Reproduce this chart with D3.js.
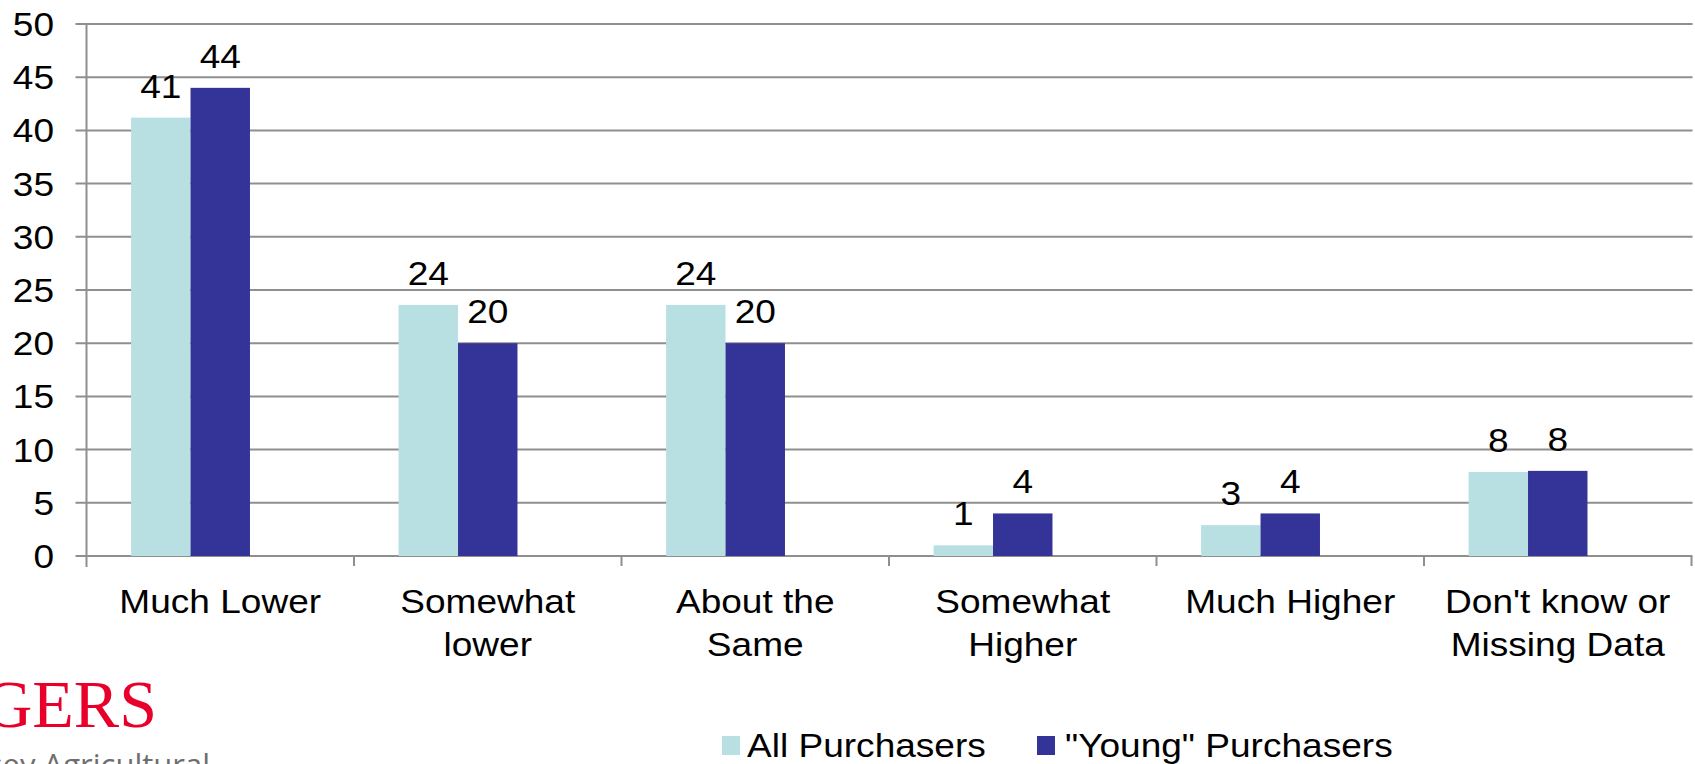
<!DOCTYPE html>
<html>
<head>
<meta charset="utf-8">
<script src="https://cdn.jsdelivr.net/npm/d3@7"></script>
<style>
  html, body { margin: 0; padding: 0; background: #fff; }
  svg { display: block; font-family: "Liberation Sans", Arial, sans-serif; }
</style>
</head>
<body>
<svg id="chart" width="1695" height="764"></svg>
<script>
// ---- data ----
const categories = ["Much Lower", "Somewhat lower", "About the Same", "Somewhat Higher", "Much Higher", "Don't know or Missing Data"];
const categoryLines = [["Much Lower"], ["Somewhat", "lower"], ["About the", "Same"], ["Somewhat", "Higher"], ["Much Higher"], ["Don't know or", "Missing Data"]];
const seriesNames = ["All Purchasers", "\"Young\" Purchasers"];
const allPurchasers = [41.2, 23.6, 23.6, 1.0, 2.9, 7.9];
const youngPurchasers = [44.0, 20.0, 20.0, 4.0, 4.0, 8.0];
const yTicks = [0, 5, 10, 15, 20, 25, 30, 35, 40, 45, 50];
const seriesColors = ["#B8E0E3", "#343498"];

const svg = d3.select("#chart");
const FONT = 34;
const SX = 1.09; // horizontal stretch of the original's text

const plotLeft = 86.5, plotRight = 1691.5, plotTop = 24, plotBottom = 556;

const y = d3.scaleLinear().domain([0, 50]).range([plotBottom, plotTop]);
const x0 = d3.scaleBand().domain(categories).range([plotLeft, plotRight])
  .paddingInner(1/3).paddingOuter(1/6);
// third slot is an empty series position (as in the original chart)
const x1 = d3.scaleBand().domain([...seriesNames, "(empty)"]).range([0, x0.bandwidth()]);

function placeText(sel, fx, fy) {
  return sel.attr("x", 0).attr("y", 0)
    .attr("transform", (d, i) => `translate(${fx(d, i)},${fy(d, i)}) scale(${SX},1)`);
}

// gridlines
svg.append("g").selectAll("line").data(yTicks).join("line")
  .attr("x1", plotLeft - 11).attr("x2", plotRight + 1)
  .attr("y1", d => y(d)).attr("y2", d => y(d))
  .attr("stroke", "#8f8f8f").attr("stroke-width", 2);

// y tick labels
placeText(svg.append("g").selectAll("text").data(yTicks).join("text"),
    () => 54, d => y(d) + 12)
  .attr("text-anchor", "end").attr("font-size", FONT).attr("fill", "#000")
  .text(d => d3.format("d")(d));

// vertical axis line
svg.append("line").attr("x1", plotLeft).attr("x2", plotLeft)
  .attr("y1", plotTop).attr("y2", plotBottom + 11)
  .attr("stroke", "#8f8f8f").attr("stroke-width", 2);

// category boundary ticks
const boundaries = categories.map(c => x0(c) - (x0.step() - x0.bandwidth()) / 2).concat([plotRight]);
svg.append("g").selectAll("line").data(boundaries.slice(1)).join("line")
  .attr("x1", d => d).attr("x2", d => d)
  .attr("y1", plotBottom).attr("y2", plotBottom + 10)
  .attr("stroke", "#8f8f8f").attr("stroke-width", 2);

// bars
const rows = categories.map((c, i) => ({ cat: c, vals: [allPurchasers[i], youngPurchasers[i]] }));
const groups = svg.append("g").selectAll("g").data(rows).join("g")
  .attr("transform", d => `translate(${x0(d.cat)},0)`);

groups.selectAll("rect").data(d => d.vals.map((v, j) => ({ v, s: seriesNames[j], j }))).join("rect")
  .attr("x", d => x1(d.s))
  .attr("width", x1.bandwidth())
  .attr("y", d => y(d.v))
  .attr("height", d => y(0) - y(d.v))
  .attr("fill", d => seriesColors[d.j]);

placeText(groups.selectAll("text.val").data(d => d.vals.map((v, j) => ({ v, s: seriesNames[j] }))).join("text"),
    d => x1(d.s) + x1.bandwidth() / 2, d => y(d.v) - 20)
  .attr("class", "val")
  .attr("text-anchor", "middle")
  .attr("font-size", FONT)
  .attr("fill", "#000")
  .text(d => d3.format(".0f")(d.v));

// category labels
const catG = placeText(svg.append("g").selectAll("text").data(categories).join("text"),
    d => x0(d) + x0.step() / 2 - (x0.step() - x0.bandwidth()) / 2, () => 613)
  .attr("text-anchor", "middle")
  .attr("font-size", FONT)
  .attr("fill", "#000");
catG.selectAll("tspan").data((d, i) => categoryLines[i]).join("tspan")
  .attr("x", 0)
  .attr("dy", (d, i) => i === 0 ? 0 : 43)
  .text(d => d);

// legend
const legendItems = [
  { name: seriesNames[0], color: seriesColors[0], sx: 722, tx: 747 },
  { name: seriesNames[1], color: seriesColors[1], sx: 1037, tx: 1065 }
];
const lg = svg.append("g");
lg.selectAll("rect").data(legendItems).join("rect")
  .attr("x", d => d.sx).attr("y", 736).attr("width", 18).attr("height", 19)
  .attr("fill", d => d.color);
placeText(lg.selectAll("text").data(legendItems).join("text"), d => d.tx, () => 757)
  .attr("font-size", FONT).attr("fill", "#000")
  .text(d => d.name);

// logo fragment (bottom-left, cut off at the edge as in the original)
svg.append("text").attr("x", 157).attr("y", 727).attr("text-anchor", "end")
  .attr("font-family", "Liberation Serif, 'Times New Roman', serif")
  .attr("font-size", 68).attr("fill", "#E8002B")
  .text("RUTGERS");
svg.append("text").attr("x", 210).attr("y", 776).attr("text-anchor", "end")
  .attr("font-family", "'Open Sans', sans-serif")
  .attr("font-size", 31).attr("fill", "#6e6e6e")
  .text("New Jersey Agricultural");
</script>
</body>
</html>
